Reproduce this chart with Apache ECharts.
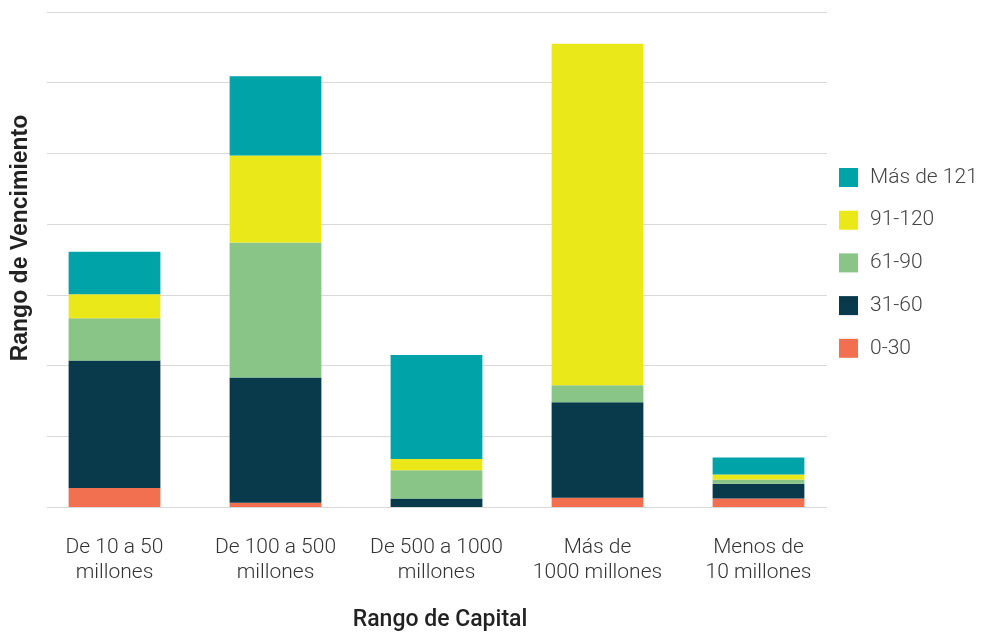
<!DOCTYPE html>
<html>
<head>
<meta charset="utf-8">
<script src="https://cdn.jsdelivr.net/npm/echarts@6/dist/echarts.min.js"></script>
<style>html,body{margin:0;padding:0;background:#fff}#c{width:981px;height:632px}</style>
</head>
<body>
<div id="c"></div>
<script>
const categories = ['De 10 a 50\nmillones', 'De 100 a 500\nmillones', 'De 500 a 1000\nmillones', 'Más de\n1000 millones', 'Menos de\n10 millones'];
const s0_30 = [2.7, 0.6, 0.0, 1.3, 1.2];
const s31_60 = [18.0, 17.7, 1.2, 13.5, 2.1];
const s61_90 = [6.0, 19.1, 4.0, 2.4, 0.6];
const s91_120 = [3.4, 12.3, 1.6, 48.3, 0.7];
const sMas121 = [6.0, 11.2, 14.7, 0.0, 2.4];
const seriesNames = ['0-30', '31-60', '61-90', '91-120', 'Más de 121'];
const colors = ['#F26F50', '#083A4C', '#88C587', '#EBE81A', '#00A3A8'];
const yMax = 70, yStep = 10;

const chart = echarts.init(document.getElementById('c'), null, {renderer: 'canvas'});
const dataSets = [s0_30, s31_60, s61_90, s91_120, sMas121];
const series = dataSets.map((d, i) => ({
  name: seriesNames[i], type: 'bar', stack: 'total', data: d,
  xAxisIndex: 0, yAxisIndex: 0, barWidth: '57%',
  itemStyle: {color: colors[i]}
}));
series.push({type: 'line', xAxisIndex: 1, yAxisIndex: 1, data: [], silent: true});

chart.setOption({
  animation: false,
  color: colors,
  textStyle: {fontFamily: 'Roboto'},
  grid: [
    {left: 34, width: 805, top: 12, bottom: 125},
    {left: 47, width: 780, top: 12, bottom: 125}
  ],
  legend: {
    data: seriesNames.slice().reverse(),
    orient: 'vertical', left: 839, top: 167, padding: 0,
    itemWidth: 19, itemHeight: 19, itemGap: 21.7,
    icon: 'rect',
    textStyle: {fontSize: 21, color: '#444', fontFamily: 'Roboto', fontWeight: 300, padding: [0, 0, 0, 7]}
  },
  xAxis: [
    {type: 'category', gridIndex: 0, data: categories,
     axisLine: {show: false}, axisTick: {show: false},
     axisLabel: {fontSize: 21, color: '#333', fontWeight: 300, lineHeight: 25, margin: 28, fontFamily: 'Roboto', interval: 0}},
    {type: 'value', gridIndex: 1, min: 0, max: 1, show: false}
  ],
  yAxis: [
    {type: 'value', gridIndex: 0, min: 0, max: yMax, interval: yStep,
     axisLabel: {show: false}, splitLine: {show: false}, axisLine: {show: false}, axisTick: {show: false}},
    {type: 'value', gridIndex: 1, min: 0, max: yMax, interval: yStep,
     axisLabel: {show: false}, axisLine: {show: false}, axisTick: {show: false},
     splitLine: {show: true, lineStyle: {color: '#d9d9d9', width: 1}}}
  ],
  graphic: [
    {type: 'text', x: 21, y: 238, rotation: Math.PI / 2,
     style: {text: 'Rango de Vencimiento', fontSize: 23, fontWeight: 'bold', fill: '#222', fontFamily: 'Liberation Sans', align: 'center', verticalAlign: 'middle'}},
    {type: 'text', x: 440, y: 620,
     style: {text: 'Rango de Capital', fontSize: 23, fontWeight: 500, fill: '#222', fontFamily: 'Roboto', align: 'center', verticalAlign: 'middle'}}
  ],
  series: series
});
</script>
</body>
</html>
